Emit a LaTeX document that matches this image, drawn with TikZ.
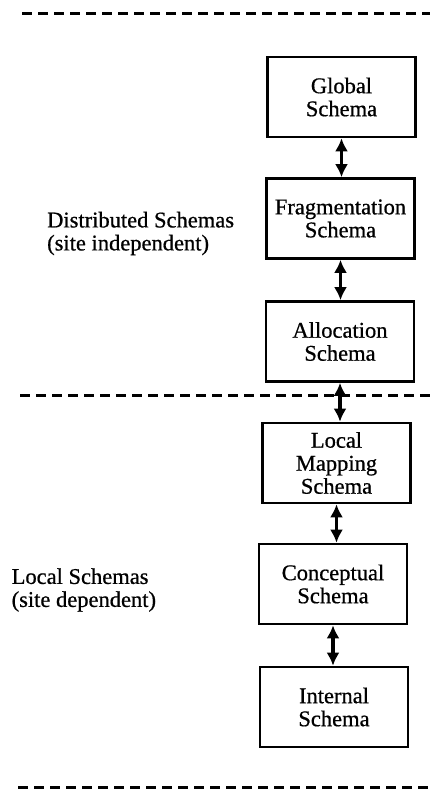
\documentclass[tikz,border=0pt]{standalone}
\usepackage{fontspec}
\setmainfont{Liberation Serif}[FakeBold=0.7]
\usetikzlibrary{arrows.meta}
\tikzset{
  schemabox/.style={draw, line width=2.6pt, minimum width=148pt, minimum height=80pt,
    align=center, inner sep=0pt, font=\fontsize{22.5}{23}\selectfont},
  sidelabel/.style={anchor=west, align=left, inner sep=0pt, font=\fontsize{22.5}{23}\selectfont},
  sep/.style={line width=3pt, dash pattern=on 10pt off 6pt},
  link/.style={line width=3.4pt, {Latex[length=13pt,width=13pt]}-{Latex[length=13pt,width=13pt]}}
}
\begin{document}
\begin{tikzpicture}[x=1pt,y=-1pt]
\useasboundingbox (0,0) rectangle (430,791);
% separators
\coordinate (t1) at (22,14);  \coordinate (t2) at (430,14);
\coordinate (m1) at (20,395); \coordinate (m2) at (430,395);
\coordinate (b1) at (18,787); \coordinate (b2) at (430,787);
\draw[sep] (t1) -- (t2);
\draw[sep] (m1) -- (m2);
\draw[sep] (b1) -- (b2);
% boxes
\node[schemabox] (glob) at (341.5,97) {Global\\Schema};
\node[schemabox] (frag) at (340.5,218.5) {Fragmentation\\Schema};
\node[schemabox] (alloc) at (340,341.5) {Allocation\\Schema};
\node[schemabox] (lmap) at (336.5,463) {Local\\Mapping\\Schema};
\node[schemabox] (conc) at (333,584) {Conceptual\\Schema};
\node[schemabox] (intl) at (334,707) {Internal\\Schema};
% links
\draw[link] (glob.south) -- (glob.south |- frag.north);
\draw[link] (frag.south) -- (frag.south |- alloc.north);
\draw[link] (alloc.south) -- (alloc.south |- lmap.north);
\draw[link] (lmap.south) -- (lmap.south |- conc.north);
\draw[link] (conc.south) -- (conc.south |- intl.north);
% labels
\node[sidelabel] (dist) at (47,233.5) {Distributed Schemas\\(site independent)};
\node[sidelabel] (loc) at (11.5,590) {Local Schemas\\(site dependent)};
\end{tikzpicture}
\end{document}
